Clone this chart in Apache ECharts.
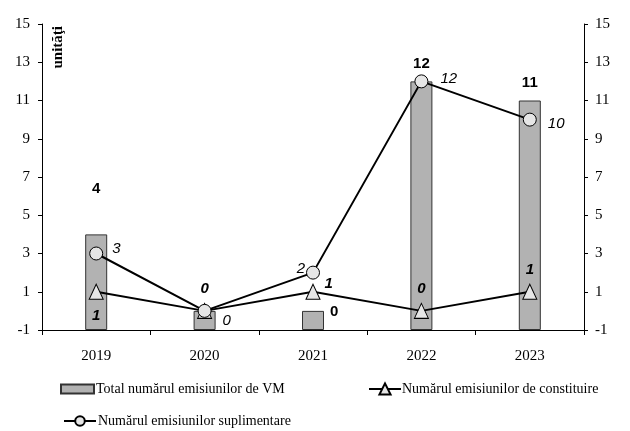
<!DOCTYPE html>
<html>
<head>
<meta charset="utf-8">
<script src="https://cdn.jsdelivr.net/npm/echarts@6/dist/echarts.min.js"></script>
<style>
  html, body { margin: 0; padding: 0; background: #fff; }
  #chart { width: 630px; height: 431px; }
</style>
</head>
<body>
<div id="chart"></div>
<script>
// date
var years = ['2019', '2020', '2021', '2022', '2023'];
var totalVM = [4, 0, 0, 12, 11];
var constituire = [1, 0, 1, 0, 1];
var suplimentare = [3, 0, 2, 12, 10];

var serif = 'Liberation Serif';
var sans = 'Liberation Sans';

// pozitii etichete (per an)
var barLabelPos = ['top', null, 'right', 'top', 'top'];
var barLabelDist = [38, 0, 6, 10, 10];
var barLabelOff = [[0, 0], [0, 0], [0, -9], [0, 0], [0, 0]];
var triLabelPos = ['bottom', 'top', 'right', 'top', 'top'];
var triLabelOff = [[0, 3], [0, 0], [-2, -8], [0, 0], [0, 0]];
var circLabelPos = ['right', 'right', 'left', 'right', 'right'];
var circLabelOff = [[3, -5], [5, 10], [5, -4], [6, -3], [5, 4]];

var chart = echarts.init(document.getElementById('chart'));

chart.setOption({
  animation: false,
  grid: { left: 42, right: 46, top: 24, bottom: 101 },
  legend: [
    {
      data: [{ name: 'Total numărul emisiunilor de VM', icon: 'rect' }],
      left: 55, top: 377, itemWidth: 33, itemHeight: 9, itemGap: 0,
      textStyle: { fontFamily: serif, fontSize: 14, color: '#000', padding: [0, 0, 0, -3] }
    },
    {
      data: ['Numărul emisiunilor de constituire'],
      left: 363, top: 377, itemWidth: 32, itemHeight: 14,
      textStyle: { fontFamily: serif, fontSize: 14, color: '#000', padding: [0, 0, 0, -4] }
    },
    {
      data: ['Numărul emisiunilor suplimentare'],
      left: 58, top: 409, itemWidth: 32, itemHeight: 12,
      textStyle: { fontFamily: serif, fontSize: 14, color: '#000', padding: [0, 0, 0, -3] }
    }
  ],
  xAxis: {
    type: 'category',
    data: years,
    axisLine: { onZero: false, lineStyle: { color: '#000', width: 1 } },
    axisTick: { show: true, length: 5, lineStyle: { color: '#000' } },
    axisLabel: { fontFamily: serif, fontSize: 15, color: '#000', margin: 19 }
  },
  yAxis: [
    {
      type: 'value', min: -1, max: 15, interval: 2, startValue: -1,
      splitLine: { show: false },
      axisLine: { show: true, lineStyle: { color: '#000' } },
      axisTick: { show: true, length: 4, lineStyle: { color: '#000' } },
      axisLabel: { fontFamily: serif, fontSize: 15, color: '#000', margin: 12 }
    },
    {
      type: 'value', min: -1, max: 15, interval: 2, position: 'right',
      splitLine: { show: false },
      axisLine: { show: true, lineStyle: { color: '#000' } },
      axisTick: { show: true, length: 4, lineStyle: { color: '#000' } },
      axisLabel: { fontFamily: serif, fontSize: 15, color: '#000', margin: 11 }
    }
  ],
  graphic: [{
    type: 'text', left: 51, top: 26, rotation: Math.PI / 2,
    style: { text: 'unităţi', font: 'bold 15px "Liberation Serif"', fill: '#000' }
  }],
  series: [
    {
      name: 'Total numărul emisiunilor de VM',
      type: 'bar',
      barWidth: 22,
      data: totalVM.map(function (v, i) {
        return {
          value: v,
          label: barLabelPos[i]
            ? { show: true, position: barLabelPos[i], distance: barLabelDist[i], offset: barLabelOff[i] }
            : { show: false }
        };
      }),
      itemStyle: { color: '#b2b2b2', borderColor: '#333', borderWidth: 1 },
      label: { fontFamily: sans, fontSize: 15, fontWeight: 'bold', color: '#000' }
    },
    {
      name: 'Numărul emisiunilor de constituire',
      type: 'line',
      symbol: 'triangle', symbolSize: [14, 15],
      lineStyle: { color: '#000', width: 2 },
      itemStyle: { color: '#e6e6e6', borderColor: '#000', borderWidth: 1 },
      data: constituire.map(function (v, i) {
        return { value: v, label: { show: true, position: triLabelPos[i], distance: 6, offset: triLabelOff[i] } };
      }),
      label: { fontFamily: sans, fontSize: 15, fontWeight: 'bold', fontStyle: 'italic', color: '#000' },
      z: 3
    },
    {
      name: 'Numărul emisiunilor suplimentare',
      type: 'line',
      symbol: 'circle', symbolSize: 13,
      lineStyle: { color: '#000', width: 2 },
      itemStyle: { color: '#e6e6e6', borderColor: '#000', borderWidth: 1 },
      data: suplimentare.map(function (v, i) {
        return { value: v, label: { show: true, position: circLabelPos[i], distance: 6, offset: circLabelOff[i] } };
      }),
      label: { fontFamily: sans, fontSize: 15, fontStyle: 'italic', color: '#000' },
      z: 4
    }
  ]
});
</script>
</body>
</html>
